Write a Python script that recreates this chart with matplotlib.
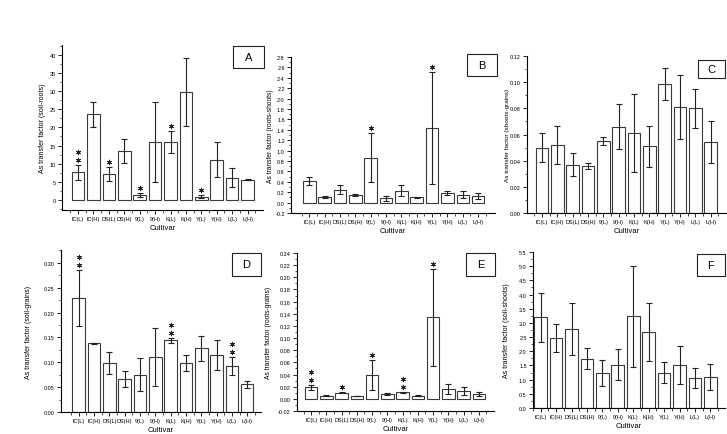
import numpy as np
import matplotlib
matplotlib.use('Agg')
import matplotlib.pyplot as plt
from matplotlib.patches import Rectangle
from matplotlib.ticker import MultipleLocator, FormatStrFormatter
from matplotlib.transforms import offset_copy

plt.rcParams['font.family'] = ['Liberation Sans', 'DejaVu Sans']

cultivars = ['IC(L)', 'IC(H)', 'DS(L)', 'DS(H)', '9(L)', '9(H)',
             'K(L)', 'K(H)', 'Y(L)', 'Y(H)', 'L(L)', 'L(H)']

# A: soil-roots
a_mean = [7.6, 23.6, 7.1, 13.5, 1.3, 16.1, 15.9, 29.7, 0.9, 11.1, 6.2, 5.6]
a_err = [2.1, 3.5, 1.9, 3.4, 0.5, 11.0, 3.0, 9.3, 0.4, 4.8, 2.6, 0.1]
a_stars = [2, 0, 1, 0, 1, 0, 1, 0, 1, 0, 0, 0]

# B: roots-shoots
b_mean = [0.41, 0.10, 0.25, 0.14, 0.86, 0.08, 0.23, 0.10, 1.44, 0.185, 0.15, 0.12]
b_err = [0.08, 0.02, 0.08, 0.02, 0.47, 0.05, 0.10, 0.01, 1.08, 0.045, 0.07, 0.06]
b_stars = [0, 0, 0, 0, 1, 0, 0, 0, 1, 0, 0, 0]

# C: shoots-grains
c_mean = [0.050, 0.052, 0.037, 0.0356, 0.0548, 0.066, 0.061, 0.051, 0.0985, 0.081, 0.080, 0.054]
c_err = [0.011, 0.0145, 0.0087, 0.0023, 0.003, 0.0174, 0.0298, 0.0156, 0.0124, 0.0246, 0.015, 0.016]
c_stars = [0] * 12

# D: soil-grains
d_mean = [0.230, 0.138, 0.0987, 0.066, 0.075, 0.111, 0.144, 0.099, 0.128, 0.115, 0.092, 0.056]
d_err = [0.056, 0.001, 0.022, 0.016, 0.033, 0.058, 0.005, 0.016, 0.025, 0.030, 0.018, 0.007]
d_stars = [2, 0, 0, 0, 0, 0, 2, 0, 0, 0, 2, 0]

# E: roots-grains
e_mean = [0.019, 0.005, 0.010, 0.005, 0.039, 0.008, 0.0105, 0.0055, 0.134, 0.016, 0.013, 0.008]
e_err = [0.004, 0.001, 0.001, 0.0005, 0.025, 0.002, 0.001, 0.001, 0.080, 0.008, 0.007, 0.004]
e_stars = [2, 0, 1, 0, 1, 0, 2, 0, 1, 0, 0, 0]

# F: soil-shoots
f_mean = [3.2, 2.47, 2.79, 1.74, 1.23, 1.52, 3.23, 2.67, 1.24, 1.53, 1.05, 1.10]
f_err = [0.87, 0.49, 0.92, 0.38, 0.47, 0.55, 1.79, 1.02, 0.37, 0.67, 0.36, 0.46]
f_stars = [0] * 12

W, H = 727, 435
fig = plt.figure(figsize=(W / 100, H / 100), dpi=100)

# (letter, ylabel, mean, err, stars, axes px [left, right, top, bottom], ylim, ystep, fmt, xlim,
#  ylabel x px, ylabel size, box px)
panels = [
    ('A', 'As transfer factor (soil-roots)', a_mean, a_err, a_stars,
     (62, 263, 46, 211), (-2.75, 42.7), 5, '%d', (-1.04, 12.0), 42, 5, (233, 264, 47, 69)),
    ('B', 'As transfer factor (roots-shoots)', b_mean, b_err, b_stars,
     (291, 495, 58, 214), (-0.2, 2.8), 0.2, '%.1f', (-1.2, 12.1), 270, 4.8, (467, 497, 55, 77)),
    ('C', 'As transfer factor (shoots-grains)', c_mean, c_err, c_stars,
     (527, 726, 57, 214), (0, 0.12), 0.02, '%.2f', (-0.98, 12.0), 507, 4.6, (698, 725, 61, 79)),
    ('D', 'As transfer factor (soil-grains)', d_mean, d_err, d_stars,
     (61, 261, 251, 413), (0, 0.326), 0.05, '%.2f', (-1.16, 11.9), 29, 5, (232, 261, 254, 277)),
    ('E', 'As transfer factor (roots-grains)', e_mean, e_err, e_stars,
     (297, 494, 254, 412), (-0.02, 0.24), 0.02, '%.2f', (-0.93, 12.0), 268, 4.8, (466, 495, 254, 277)),
    ('F', 'As transfer factor (soil-shoots)', f_mean, f_err, f_stars,
     (533, 725, 253, 409), (0, 5.5), 0.5, '%.1f', (-0.47, 11.95), 506, 5, (697, 725, 255, 277)),
]

x = np.arange(len(cultivars))

for letter, ylab, mean, err, stars, px, ylim, ystep, fmt, xlim, ylx, yls, box in panels:
    l, r, t, b = px
    ax = fig.add_axes([l / W, 1 - b / H, (r - l) / W, (b - t) / H])
    ax.bar(x, mean, width=0.82, color='white', edgecolor='#3a3a3a', linewidth=0.8, zorder=2)
    ax.errorbar(x, mean, yerr=err, fmt='none', ecolor='#222222', elinewidth=0.8,
                capsize=2.2, capthick=0.8, zorder=3)
    # significance asterisks, stacked above the error bar
    tops = np.array(mean) + np.array(err)
    for k, dy in enumerate([3.6, 9.4]):
        sel = [i for i, n in enumerate(stars) if n > k]
        if sel:
            tr = offset_copy(ax.transData, fig=fig, x=0, y=dy, units='points')
            ax.plot(x[sel], tops[sel], linestyle='none', marker=(6, 2, 0), markersize=3.8,
                    markeredgewidth=0.6, color='#222222', transform=tr, clip_on=False, zorder=4)
    ax.set_xlim(*xlim)
    ax.set_ylim(*ylim)
    ax.yaxis.set_major_locator(MultipleLocator(ystep))
    ax.yaxis.set_minor_locator(MultipleLocator(ystep / 2))
    ax.yaxis.set_major_formatter(FormatStrFormatter(fmt))
    ax.set_xticks(x)
    ax.set_xticklabels(cultivars)
    ax.set_xticks(np.arange(-0.5, 12, 1), minor=True)
    for s in ['top', 'right']:
        ax.spines[s].set_visible(False)
    for s in ['left', 'bottom']:
        ax.spines[s].set_linewidth(0.8)
    ax.tick_params(axis='both', which='major', direction='out', length=3, width=0.6,
                   labelsize=4, pad=1.5)
    ax.tick_params(axis='both', which='minor', direction='out', length=1.8, width=0.5)
    ax.set_xlabel('Cultivar', fontsize=5.5, labelpad=2)
    fig.text(ylx / W, 1 - (t + b) / 2 / H, ylab, rotation=90, ha='center', va='center',
             fontsize=yls)
    bl, br, bt, bb = box
    fig.add_artist(Rectangle((bl / W, 1 - bb / H), (br - bl) / W, (bb - bt) / H,
                             transform=fig.transFigure, facecolor='white',
                             edgecolor='#222222', linewidth=0.8))
    fig.text((bl + br) / 2 / W, 1 - (bt + bb) / 2 / H, letter, ha='center', va='center',
             fontsize=8)

fig.savefig('out.png', dpi=100)
